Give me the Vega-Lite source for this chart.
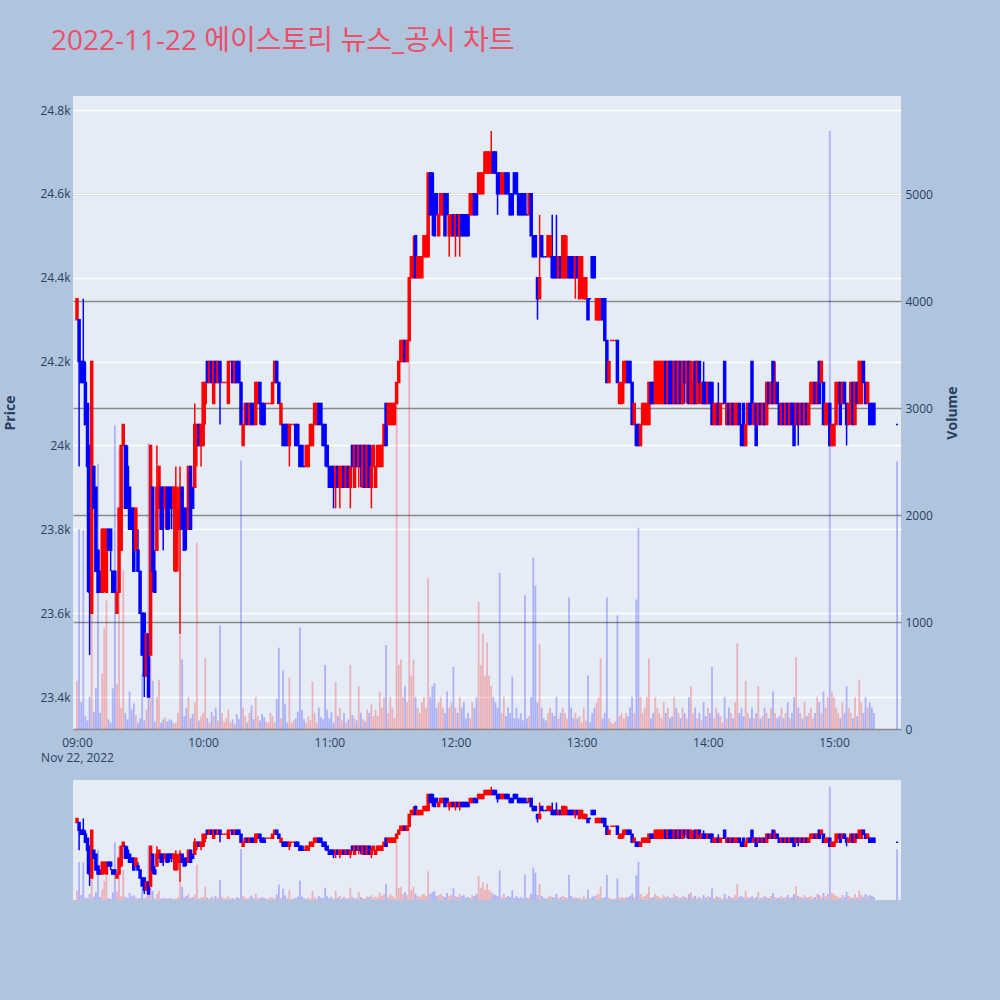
{
"$schema": "https://vega.github.io/schema/vega-lite/v6.json",
"background": "#B0C4DE",
"padding": {"left": 3, "top": 28, "right": 40, "bottom": 100},
"title": {"text": "2022-11-22 에이스토리 뉴스_공시 차트", "anchor": "start", "frame": "bounds", "font": "Open Sans, Noto Sans CJK KR", "fontSize": 28, "fontWeight": "normal", "color": "#EC5069", "dx": 47, "offset": 40},
"config": {"view": {"fill": "#E5ECF6", "stroke": null}, "axis": {"domain": false, "ticks": false, "labelFont": "Open Sans", "labelFontSize": 12, "labelColor": "#2a3f5f", "titleFont": "Open Sans", "titleColor": "#2a3f5f", "titleFontSize": 14, "titleFontWeight": "bold"}},
"data": {"values": [
{"t":"2022-11-22 09:00","o":24300,"h":24350,"l":24300,"c":24350,"v":450},
{"t":"2022-11-22 09:01","o":24300,"h":24300,"l":23950,"c":24200,"v":1870},
{"t":"2022-11-22 09:02","o":24200,"h":24200,"l":24150,"c":24150,"v":250},
{"t":"2022-11-22 09:03","o":24200,"h":24350,"l":24150,"c":24150,"v":1860},
{"t":"2022-11-22 09:04","o":24150,"h":24200,"l":24050,"c":24050,"v":120},
{"t":"2022-11-22 09:05","o":24100,"h":24100,"l":23650,"c":23950,"v":80},
{"t":"2022-11-22 09:06","o":24000,"h":24000,"l":23500,"c":23650,"v":300},
{"t":"2022-11-22 09:07","o":23600,"h":24200,"l":23600,"c":24200,"v":2850},
{"t":"2022-11-22 09:08","o":23950,"h":23950,"l":23850,"c":23850,"v":160},
{"t":"2022-11-22 09:09","o":23900,"h":23900,"l":23700,"c":23700,"v":380},
{"t":"2022-11-22 09:10","o":23750,"h":23750,"l":23650,"c":23650,"v":2480},
{"t":"2022-11-22 09:11","o":23700,"h":23700,"l":23650,"c":23650,"v":150},
{"t":"2022-11-22 09:12","o":23650,"h":23800,"l":23650,"c":23800,"v":520},
{"t":"2022-11-22 09:13","o":23700,"h":23800,"l":23650,"c":23800,"v":940},
{"t":"2022-11-22 09:14","o":23650,"h":23800,"l":23650,"c":23800,"v":1200},
{"t":"2022-11-22 09:15","o":23800,"h":23800,"l":23750,"c":23750,"v":90},
{"t":"2022-11-22 09:16","o":23800,"h":23800,"l":23700,"c":23750,"v":60},
{"t":"2022-11-22 09:17","o":23700,"h":23700,"l":23650,"c":23650,"v":380},
{"t":"2022-11-22 09:18","o":23700,"h":23700,"l":23650,"c":23650,"v":2840},
{"t":"2022-11-22 09:19","o":23600,"h":23650,"l":23600,"c":23650,"v":420},
{"t":"2022-11-22 09:20","o":23650,"h":23850,"l":23650,"c":23850,"v":2620},
{"t":"2022-11-22 09:21","o":23750,"h":24000,"l":23750,"c":24000,"v":200},
{"t":"2022-11-22 09:22","o":24000,"h":24050,"l":24000,"c":24050,"v":1480},
{"t":"2022-11-22 09:23","o":24000,"h":24000,"l":23850,"c":23850,"v":150},
{"t":"2022-11-22 09:24","o":23950,"h":24000,"l":23850,"c":23850,"v":90},
{"t":"2022-11-22 09:25","o":23900,"h":23900,"l":23800,"c":23800,"v":350},
{"t":"2022-11-22 09:26","o":23850,"h":23850,"l":23800,"c":23800,"v":180},
{"t":"2022-11-22 09:27","o":23850,"h":23850,"l":23700,"c":23700,"v":240},
{"t":"2022-11-22 09:28","o":23750,"h":23850,"l":23750,"c":23850,"v":130},
{"t":"2022-11-22 09:29","o":23750,"h":23800,"l":23700,"c":23700,"v":60},
{"t":"2022-11-22 09:30","o":23700,"h":23700,"l":23600,"c":23600,"v":100},
{"t":"2022-11-22 09:31","o":23600,"h":23600,"l":23500,"c":23500,"v":520},
{"t":"2022-11-22 09:32","o":23600,"h":23600,"l":23400,"c":23450,"v":80},
{"t":"2022-11-22 09:33","o":23450,"h":23550,"l":23450,"c":23550,"v":180},
{"t":"2022-11-22 09:34","o":23550,"h":23550,"l":23400,"c":23400,"v":2670},
{"t":"2022-11-22 09:35","o":23500,"h":24000,"l":23500,"c":24000,"v":670},
{"t":"2022-11-22 09:36","o":23900,"h":23900,"l":23650,"c":23700,"v":450},
{"t":"2022-11-22 09:37","o":23700,"h":23750,"l":23650,"c":23650,"v":70},
{"t":"2022-11-22 09:38","o":23750,"h":24000,"l":23750,"c":23900,"v":300},
{"t":"2022-11-22 09:39","o":23850,"h":23950,"l":23850,"c":23950,"v":460},
{"t":"2022-11-22 09:40","o":23900,"h":23900,"l":23800,"c":23800,"v":60},
{"t":"2022-11-22 09:41","o":23900,"h":23900,"l":23750,"c":23850,"v":90},
{"t":"2022-11-22 09:42","o":23850,"h":23900,"l":23800,"c":23900,"v":110},
{"t":"2022-11-22 09:43","o":23900,"h":23900,"l":23800,"c":23800,"v":70},
{"t":"2022-11-22 09:44","o":23900,"h":23900,"l":23800,"c":23850,"v":90},
{"t":"2022-11-22 09:45","o":23900,"h":23900,"l":23800,"c":23850,"v":80},
{"t":"2022-11-22 09:46","o":23850,"h":23900,"l":23700,"c":23900,"v":50},
{"t":"2022-11-22 09:47","o":23700,"h":23950,"l":23700,"c":23900,"v":60},
{"t":"2022-11-22 09:48","o":23800,"h":23900,"l":23700,"c":23850,"v":150},
{"t":"2022-11-22 09:49","o":23800,"h":23950,"l":23550,"c":23900,"v":880},
{"t":"2022-11-22 09:50","o":23900,"h":23900,"l":23800,"c":23800,"v":650},
{"t":"2022-11-22 09:51","o":23850,"h":23850,"l":23750,"c":23750,"v":120},
{"t":"2022-11-22 09:52","o":23850,"h":23850,"l":23750,"c":23800,"v":200},
{"t":"2022-11-22 09:53","o":23800,"h":23950,"l":23800,"c":23950,"v":300},
{"t":"2022-11-22 09:54","o":23950,"h":23950,"l":23800,"c":23800,"v":100},
{"t":"2022-11-22 09:55","o":23900,"h":23900,"l":23850,"c":23850,"v":140},
{"t":"2022-11-22 09:56","o":23900,"h":24100,"l":23900,"c":24050,"v":250},
{"t":"2022-11-22 09:57","o":24000,"h":24050,"l":23950,"c":24050,"v":1740},
{"t":"2022-11-22 09:58","o":24050,"h":24050,"l":24000,"c":24000,"v":80},
{"t":"2022-11-22 09:59","o":24000,"h":24050,"l":23950,"c":24050,"v":120},
{"t":"2022-11-22 10:00","o":24000,"h":24150,"l":24000,"c":24150,"v":150},
{"t":"2022-11-22 10:01","o":24100,"h":24150,"l":24050,"c":24150,"v":660},
{"t":"2022-11-22 10:02","o":24200,"h":24200,"l":24150,"c":24150,"v":100},
{"t":"2022-11-22 10:03","o":24150,"h":24200,"l":24150,"c":24200,"v":60},
{"t":"2022-11-22 10:04","o":24200,"h":24200,"l":24150,"c":24150,"v":160},
{"t":"2022-11-22 10:05","o":24100,"h":24200,"l":24100,"c":24200,"v":120},
{"t":"2022-11-22 10:06","o":24200,"h":24200,"l":24150,"c":24150,"v":200},
{"t":"2022-11-22 10:07","o":24150,"h":24200,"l":24150,"c":24200,"v":80},
{"t":"2022-11-22 10:08","o":24200,"h":24200,"l":24050,"c":24150,"v":970},
{"t":"2022-11-22 10:09","o":24150,"h":24150,"l":24150,"c":24150,"v":150,"u":1},
{"t":"2022-11-22 10:10","o":24150,"h":24150,"l":24150,"c":24150,"v":70,"u":1},
{"t":"2022-11-22 10:11","o":24150,"h":24150,"l":24150,"c":24150,"v":100,"u":1},
{"t":"2022-11-22 10:12","o":24100,"h":24200,"l":24100,"c":24200,"v":180},
{"t":"2022-11-22 10:13","o":24200,"h":24200,"l":24200,"c":24200,"v":60,"u":1},
{"t":"2022-11-22 10:14","o":24200,"h":24200,"l":24150,"c":24150,"v":90},
{"t":"2022-11-22 10:15","o":24150,"h":24200,"l":24150,"c":24200,"v":50},
{"t":"2022-11-22 10:16","o":24200,"h":24200,"l":24150,"c":24150,"v":140},
{"t":"2022-11-22 10:17","o":24200,"h":24200,"l":24150,"c":24150,"v":90},
{"t":"2022-11-22 10:18","o":24150,"h":24150,"l":24050,"c":24050,"v":2510},
{"t":"2022-11-22 10:19","o":24000,"h":24050,"l":24000,"c":24050,"v":200},
{"t":"2022-11-22 10:20","o":24050,"h":24100,"l":24050,"c":24100,"v":120},
{"t":"2022-11-22 10:21","o":24100,"h":24100,"l":24050,"c":24050,"v":60},
{"t":"2022-11-22 10:22","o":24050,"h":24100,"l":24050,"c":24100,"v":150},
{"t":"2022-11-22 10:23","o":24100,"h":24100,"l":24050,"c":24050,"v":220},
{"t":"2022-11-22 10:24","o":24100,"h":24100,"l":24050,"c":24050,"v":90},
{"t":"2022-11-22 10:25","o":24050,"h":24150,"l":24050,"c":24150,"v":300},
{"t":"2022-11-22 10:26","o":24100,"h":24150,"l":24100,"c":24150,"v":120},
{"t":"2022-11-22 10:27","o":24150,"h":24150,"l":24050,"c":24100,"v":80},
{"t":"2022-11-22 10:28","o":24100,"h":24100,"l":24050,"c":24050,"v":140},
{"t":"2022-11-22 10:29","o":24100,"h":24100,"l":24050,"c":24050,"v":110},
{"t":"2022-11-22 10:30","o":24100,"h":24100,"l":24100,"c":24100,"v":70,"u":1},
{"t":"2022-11-22 10:31","o":24100,"h":24100,"l":24100,"c":24100,"v":60,"u":1},
{"t":"2022-11-22 10:32","o":24100,"h":24100,"l":24100,"c":24100,"v":150,"u":1},
{"t":"2022-11-22 10:33","o":24100,"h":24150,"l":24100,"c":24150,"v":120},
{"t":"2022-11-22 10:34","o":24150,"h":24200,"l":24150,"c":24200,"v":60},
{"t":"2022-11-22 10:35","o":24200,"h":24200,"l":24150,"c":24150,"v":280},
{"t":"2022-11-22 10:36","o":24150,"h":24150,"l":24100,"c":24100,"v":760},
{"t":"2022-11-22 10:37","o":24050,"h":24100,"l":24050,"c":24100,"v":100},
{"t":"2022-11-22 10:38","o":24050,"h":24050,"l":24000,"c":24000,"v":550},
{"t":"2022-11-22 10:39","o":24050,"h":24050,"l":24000,"c":24000,"v":230},
{"t":"2022-11-22 10:40","o":24050,"h":24050,"l":24000,"c":24000,"v":60},
{"t":"2022-11-22 10:41","o":24000,"h":24050,"l":23950,"c":24050,"v":480},
{"t":"2022-11-22 10:42","o":24050,"h":24050,"l":24050,"c":24050,"v":60,"u":1},
{"t":"2022-11-22 10:43","o":24050,"h":24050,"l":24050,"c":24050,"v":80,"u":1},
{"t":"2022-11-22 10:44","o":24050,"h":24050,"l":24000,"c":24000,"v":100},
{"t":"2022-11-22 10:45","o":24050,"h":24050,"l":24000,"c":24000,"v":160},
{"t":"2022-11-22 10:46","o":24000,"h":24000,"l":23950,"c":23950,"v":950},
{"t":"2022-11-22 10:47","o":24000,"h":24000,"l":23950,"c":23950,"v":180},
{"t":"2022-11-22 10:48","o":23950,"h":23950,"l":23950,"c":23950,"v":90},
{"t":"2022-11-22 10:49","o":23950,"h":24000,"l":23950,"c":24000,"v":60},
{"t":"2022-11-22 10:50","o":23950,"h":24000,"l":23950,"c":24000,"v":120},
{"t":"2022-11-22 10:51","o":24000,"h":24050,"l":24000,"c":24050,"v":80},
{"t":"2022-11-22 10:52","o":24000,"h":24050,"l":24000,"c":24050,"v":440},
{"t":"2022-11-22 10:53","o":24050,"h":24100,"l":24050,"c":24100,"v":150},
{"t":"2022-11-22 10:54","o":24050,"h":24100,"l":24050,"c":24100,"v":60},
{"t":"2022-11-22 10:55","o":24100,"h":24100,"l":24050,"c":24050,"v":200},
{"t":"2022-11-22 10:56","o":24100,"h":24100,"l":24050,"c":24050,"v":110},
{"t":"2022-11-22 10:57","o":24050,"h":24050,"l":24000,"c":24000,"v":90},
{"t":"2022-11-22 10:58","o":24050,"h":24050,"l":23950,"c":24000,"v":600},
{"t":"2022-11-22 10:59","o":24000,"h":24000,"l":23950,"c":23950,"v":180},
{"t":"2022-11-22 11:00","o":23950,"h":23950,"l":23900,"c":23900,"v":100},
{"t":"2022-11-22 11:01","o":23950,"h":23950,"l":23900,"c":23900,"v":160},
{"t":"2022-11-22 11:02","o":23950,"h":23950,"l":23850,"c":23900,"v":60},
{"t":"2022-11-22 11:03","o":23900,"h":23950,"l":23850,"c":23950,"v":440},
{"t":"2022-11-22 11:04","o":23950,"h":23950,"l":23900,"c":23900,"v":120},
{"t":"2022-11-22 11:05","o":23900,"h":23950,"l":23850,"c":23950,"v":200},
{"t":"2022-11-22 11:06","o":23900,"h":23950,"l":23900,"c":23950,"v":80},
{"t":"2022-11-22 11:07","o":23950,"h":23950,"l":23900,"c":23900,"v":150},
{"t":"2022-11-22 11:08","o":23900,"h":23950,"l":23900,"c":23950,"v":60},
{"t":"2022-11-22 11:09","o":23950,"h":23950,"l":23900,"c":23900,"v":90},
{"t":"2022-11-22 11:10","o":23900,"h":23950,"l":23850,"c":23950,"v":600},
{"t":"2022-11-22 11:11","o":24000,"h":24000,"l":23950,"c":23950,"v":130},
{"t":"2022-11-22 11:12","o":23900,"h":24000,"l":23900,"c":24000,"v":100},
{"t":"2022-11-22 11:13","o":24000,"h":24000,"l":23950,"c":23950,"v":80},
{"t":"2022-11-22 11:14","o":23950,"h":24000,"l":23900,"c":24000,"v":400},
{"t":"2022-11-22 11:15","o":24000,"h":24000,"l":23900,"c":23950,"v":150},
{"t":"2022-11-22 11:16","o":23900,"h":24000,"l":23900,"c":24000,"v":90},
{"t":"2022-11-22 11:17","o":24000,"h":24000,"l":23900,"c":23900,"v":70},
{"t":"2022-11-22 11:18","o":23900,"h":24000,"l":23900,"c":24000,"v":180},
{"t":"2022-11-22 11:19","o":24000,"h":24000,"l":23900,"c":23900,"v":150},
{"t":"2022-11-22 11:20","o":23900,"h":24000,"l":23850,"c":23950,"v":230},
{"t":"2022-11-22 11:21","o":23950,"h":24000,"l":23950,"c":24000,"v":120},
{"t":"2022-11-22 11:22","o":23900,"h":23950,"l":23900,"c":23950,"v":180},
{"t":"2022-11-22 11:23","o":23950,"h":24000,"l":23950,"c":24000,"v":120},
{"t":"2022-11-22 11:24","o":23950,"h":24000,"l":23950,"c":24000,"v":350},
{"t":"2022-11-22 11:25","o":23950,"h":24000,"l":23950,"c":24000,"v":200},
{"t":"2022-11-22 11:26","o":24000,"h":24050,"l":24000,"c":24050,"v":300},
{"t":"2022-11-22 11:27","o":24100,"h":24100,"l":24000,"c":24000,"v":785},
{"t":"2022-11-22 11:28","o":24050,"h":24100,"l":24050,"c":24100,"v":150},
{"t":"2022-11-22 11:29","o":24050,"h":24100,"l":24050,"c":24100,"v":300},
{"t":"2022-11-22 11:30","o":24050,"h":24100,"l":24050,"c":24100,"v":200},
{"t":"2022-11-22 11:31","o":24050,"h":24100,"l":24050,"c":24100,"v":100},
{"t":"2022-11-22 11:32","o":24100,"h":24150,"l":24100,"c":24150,"v":3040},
{"t":"2022-11-22 11:33","o":24150,"h":24200,"l":24150,"c":24200,"v":600},
{"t":"2022-11-22 11:34","o":24200,"h":24250,"l":24200,"c":24250,"v":650},
{"t":"2022-11-22 11:35","o":24200,"h":24250,"l":24200,"c":24250,"v":300},
{"t":"2022-11-22 11:36","o":24250,"h":24250,"l":24200,"c":24200,"v":400},
{"t":"2022-11-22 11:37","o":24200,"h":24250,"l":24200,"c":24250,"v":250},
{"t":"2022-11-22 11:38","o":24250,"h":24400,"l":24250,"c":24400,"v":4000},
{"t":"2022-11-22 11:39","o":24400,"h":24450,"l":24400,"c":24450,"v":500},
{"t":"2022-11-22 11:40","o":24400,"h":24500,"l":24400,"c":24450,"v":650},
{"t":"2022-11-22 11:41","o":24500,"h":24500,"l":24400,"c":24400,"v":300},
{"t":"2022-11-22 11:42","o":24400,"h":24450,"l":24400,"c":24450,"v":200},
{"t":"2022-11-22 11:43","o":24400,"h":24450,"l":24400,"c":24450,"v":150},
{"t":"2022-11-22 11:44","o":24400,"h":24450,"l":24400,"c":24450,"v":250},
{"t":"2022-11-22 11:45","o":24450,"h":24500,"l":24450,"c":24500,"v":300},
{"t":"2022-11-22 11:46","o":24450,"h":24500,"l":24450,"c":24500,"v":200},
{"t":"2022-11-22 11:47","o":24450,"h":24650,"l":24450,"c":24650,"v":1410},
{"t":"2022-11-22 11:48","o":24650,"h":24650,"l":24550,"c":24550,"v":300},
{"t":"2022-11-22 11:49","o":24650,"h":24650,"l":24500,"c":24550,"v":400},
{"t":"2022-11-22 11:50","o":24600,"h":24600,"l":24500,"c":24500,"v":430},
{"t":"2022-11-22 11:51","o":24600,"h":24600,"l":24550,"c":24550,"v":200},
{"t":"2022-11-22 11:52","o":24500,"h":24550,"l":24500,"c":24550,"v":250},
{"t":"2022-11-22 11:53","o":24550,"h":24600,"l":24550,"c":24600,"v":300},
{"t":"2022-11-22 11:54","o":24550,"h":24600,"l":24550,"c":24600,"v":200},
{"t":"2022-11-22 11:55","o":24600,"h":24600,"l":24500,"c":24500,"v":150},
{"t":"2022-11-22 11:56","o":24600,"h":24600,"l":24550,"c":24550,"v":350},
{"t":"2022-11-22 11:57","o":24500,"h":24550,"l":24450,"c":24550,"v":200},
{"t":"2022-11-22 11:58","o":24500,"h":24550,"l":24500,"c":24550,"v":250},
{"t":"2022-11-22 11:59","o":24550,"h":24550,"l":24500,"c":24500,"v":580},
{"t":"2022-11-22 12:00","o":24500,"h":24550,"l":24450,"c":24550,"v":200},
{"t":"2022-11-22 12:01","o":24550,"h":24550,"l":24500,"c":24500,"v":150},
{"t":"2022-11-22 12:02","o":24500,"h":24550,"l":24450,"c":24550,"v":300},
{"t":"2022-11-22 12:03","o":24550,"h":24550,"l":24500,"c":24500,"v":200},
{"t":"2022-11-22 12:04","o":24550,"h":24550,"l":24500,"c":24500,"v":250},
{"t":"2022-11-22 12:05","o":24550,"h":24550,"l":24500,"c":24500,"v":100},
{"t":"2022-11-22 12:06","o":24550,"h":24550,"l":24500,"c":24500,"v":150},
{"t":"2022-11-22 12:07","o":24550,"h":24600,"l":24550,"c":24600,"v":100},
{"t":"2022-11-22 12:08","o":24550,"h":24600,"l":24550,"c":24600,"v":250},
{"t":"2022-11-22 12:09","o":24600,"h":24600,"l":24550,"c":24550,"v":200},
{"t":"2022-11-22 12:10","o":24600,"h":24600,"l":24550,"c":24550,"v":300},
{"t":"2022-11-22 12:11","o":24600,"h":24650,"l":24600,"c":24650,"v":1190},
{"t":"2022-11-22 12:12","o":24600,"h":24650,"l":24600,"c":24650,"v":600},
{"t":"2022-11-22 12:13","o":24600,"h":24650,"l":24600,"c":24650,"v":890},
{"t":"2022-11-22 12:14","o":24650,"h":24700,"l":24650,"c":24700,"v":500},
{"t":"2022-11-22 12:15","o":24650,"h":24700,"l":24650,"c":24700,"v":810},
{"t":"2022-11-22 12:16","o":24650,"h":24700,"l":24650,"c":24700,"v":500},
{"t":"2022-11-22 12:17","o":24650,"h":24750,"l":24650,"c":24700,"v":400},
{"t":"2022-11-22 12:18","o":24700,"h":24700,"l":24650,"c":24650,"v":300},
{"t":"2022-11-22 12:19","o":24700,"h":24700,"l":24650,"c":24650,"v":250},
{"t":"2022-11-22 12:20","o":24650,"h":24650,"l":24550,"c":24600,"v":200},
{"t":"2022-11-22 12:21","o":24650,"h":24650,"l":24600,"c":24600,"v":1460},
{"t":"2022-11-22 12:22","o":24600,"h":24650,"l":24600,"c":24650,"v":150},
{"t":"2022-11-22 12:23","o":24600,"h":24650,"l":24600,"c":24650,"v":300},
{"t":"2022-11-22 12:24","o":24650,"h":24650,"l":24600,"c":24600,"v":120},
{"t":"2022-11-22 12:25","o":24650,"h":24650,"l":24600,"c":24600,"v":200},
{"t":"2022-11-22 12:26","o":24600,"h":24600,"l":24550,"c":24550,"v":150},
{"t":"2022-11-22 12:27","o":24600,"h":24600,"l":24550,"c":24550,"v":490},
{"t":"2022-11-22 12:28","o":24650,"h":24650,"l":24600,"c":24600,"v":100},
{"t":"2022-11-22 12:29","o":24650,"h":24650,"l":24600,"c":24600,"v":200},
{"t":"2022-11-22 12:30","o":24600,"h":24600,"l":24550,"c":24550,"v":100},
{"t":"2022-11-22 12:31","o":24600,"h":24600,"l":24550,"c":24550,"v":150},
{"t":"2022-11-22 12:32","o":24600,"h":24600,"l":24550,"c":24550,"v":80},
{"t":"2022-11-22 12:33","o":24600,"h":24600,"l":24550,"c":24550,"v":1250},
{"t":"2022-11-22 12:34","o":24550,"h":24550,"l":24550,"c":24550,"v":100},
{"t":"2022-11-22 12:35","o":24550,"h":24600,"l":24550,"c":24600,"v":120},
{"t":"2022-11-22 12:36","o":24600,"h":24600,"l":24500,"c":24500,"v":300},
{"t":"2022-11-22 12:37","o":24500,"h":24500,"l":24450,"c":24450,"v":1600},
{"t":"2022-11-22 12:38","o":24500,"h":24500,"l":24450,"c":24450,"v":1340},
{"t":"2022-11-22 12:39","o":24400,"h":24400,"l":24300,"c":24350,"v":250},
{"t":"2022-11-22 12:40","o":24350,"h":24550,"l":24350,"c":24400,"v":790},
{"t":"2022-11-22 12:41","o":24500,"h":24500,"l":24450,"c":24450,"v":200},
{"t":"2022-11-22 12:42","o":24450,"h":24450,"l":24450,"c":24450,"v":100},
{"t":"2022-11-22 12:43","o":24450,"h":24450,"l":24450,"c":24450,"v":80},
{"t":"2022-11-22 12:44","o":24450,"h":24500,"l":24450,"c":24500,"v":150},
{"t":"2022-11-22 12:45","o":24450,"h":24500,"l":24450,"c":24500,"v":200},
{"t":"2022-11-22 12:46","o":24450,"h":24550,"l":24400,"c":24400,"v":150},
{"t":"2022-11-22 12:47","o":24450,"h":24450,"l":24400,"c":24400,"v":120},
{"t":"2022-11-22 12:48","o":24450,"h":24550,"l":24400,"c":24400,"v":300},
{"t":"2022-11-22 12:49","o":24400,"h":24450,"l":24400,"c":24450,"v":100},
{"t":"2022-11-22 12:50","o":24450,"h":24450,"l":24400,"c":24400,"v":150},
{"t":"2022-11-22 12:51","o":24400,"h":24500,"l":24400,"c":24500,"v":200},
{"t":"2022-11-22 12:52","o":24400,"h":24500,"l":24400,"c":24500,"v":150},
{"t":"2022-11-22 12:53","o":24400,"h":24500,"l":24400,"c":24450,"v":100},
{"t":"2022-11-22 12:54","o":24450,"h":24450,"l":24400,"c":24400,"v":1230},
{"t":"2022-11-22 12:55","o":24450,"h":24450,"l":24400,"c":24400,"v":200},
{"t":"2022-11-22 12:56","o":24450,"h":24450,"l":24400,"c":24400,"v":100},
{"t":"2022-11-22 12:57","o":24400,"h":24450,"l":24350,"c":24450,"v":150},
{"t":"2022-11-22 12:58","o":24450,"h":24450,"l":24400,"c":24400,"v":100},
{"t":"2022-11-22 12:59","o":24350,"h":24450,"l":24350,"c":24450,"v":120},
{"t":"2022-11-22 13:00","o":24400,"h":24450,"l":24350,"c":24450,"v":60},
{"t":"2022-11-22 13:01","o":24350,"h":24400,"l":24350,"c":24400,"v":200},
{"t":"2022-11-22 13:02","o":24350,"h":24400,"l":24350,"c":24400,"v":80},
{"t":"2022-11-22 13:03","o":24350,"h":24350,"l":24300,"c":24300,"v":500},
{"t":"2022-11-22 13:04","o":24350,"h":24350,"l":24350,"c":24350,"v":60},
{"t":"2022-11-22 13:05","o":24450,"h":24450,"l":24400,"c":24400,"v":150},
{"t":"2022-11-22 13:06","o":24450,"h":24450,"l":24400,"c":24400,"v":200},
{"t":"2022-11-22 13:07","o":24300,"h":24350,"l":24300,"c":24350,"v":250},
{"t":"2022-11-22 13:08","o":24300,"h":24350,"l":24300,"c":24350,"v":300},
{"t":"2022-11-22 13:09","o":24300,"h":24350,"l":24300,"c":24350,"v":660},
{"t":"2022-11-22 13:10","o":24350,"h":24350,"l":24300,"c":24300,"v":100},
{"t":"2022-11-22 13:11","o":24350,"h":24350,"l":24250,"c":24250,"v":150},
{"t":"2022-11-22 13:12","o":24250,"h":24250,"l":24150,"c":24150,"v":1230},
{"t":"2022-11-22 13:13","o":24150,"h":24200,"l":24150,"c":24200,"v":100},
{"t":"2022-11-22 13:14","o":24250,"h":24250,"l":24250,"c":24250,"v":60,"u":1},
{"t":"2022-11-22 13:15","o":24250,"h":24250,"l":24250,"c":24250,"v":50,"u":1},
{"t":"2022-11-22 13:16","o":24250,"h":24250,"l":24250,"c":24250,"v":70,"u":1},
{"t":"2022-11-22 13:17","o":24250,"h":24250,"l":24150,"c":24150,"v":1060},
{"t":"2022-11-22 13:18","o":24100,"h":24150,"l":24100,"c":24150,"v":120},
{"t":"2022-11-22 13:19","o":24100,"h":24150,"l":24100,"c":24150,"v":150},
{"t":"2022-11-22 13:20","o":24150,"h":24200,"l":24100,"c":24200,"v":100},
{"t":"2022-11-22 13:21","o":24150,"h":24200,"l":24150,"c":24200,"v":150},
{"t":"2022-11-22 13:22","o":24200,"h":24200,"l":24150,"c":24150,"v":120},
{"t":"2022-11-22 13:23","o":24200,"h":24200,"l":24150,"c":24150,"v":200},
{"t":"2022-11-22 13:24","o":24150,"h":24150,"l":24050,"c":24050,"v":300},
{"t":"2022-11-22 13:25","o":24050,"h":24100,"l":24050,"c":24100,"v":150},
{"t":"2022-11-22 13:26","o":24050,"h":24050,"l":24000,"c":24000,"v":1210},
{"t":"2022-11-22 13:27","o":24050,"h":24050,"l":24000,"c":24000,"v":1880},
{"t":"2022-11-22 13:28","o":24000,"h":24050,"l":24000,"c":24050,"v":300},
{"t":"2022-11-22 13:29","o":24050,"h":24100,"l":24050,"c":24100,"v":150},
{"t":"2022-11-22 13:30","o":24050,"h":24100,"l":24050,"c":24100,"v":200},
{"t":"2022-11-22 13:31","o":24050,"h":24100,"l":24050,"c":24100,"v":300},
{"t":"2022-11-22 13:32","o":24050,"h":24150,"l":24050,"c":24150,"v":660},
{"t":"2022-11-22 13:33","o":24150,"h":24150,"l":24100,"c":24100,"v":100},
{"t":"2022-11-22 13:34","o":24150,"h":24150,"l":24100,"c":24100,"v":150},
{"t":"2022-11-22 13:35","o":24100,"h":24200,"l":24100,"c":24200,"v":300},
{"t":"2022-11-22 13:36","o":24100,"h":24200,"l":24100,"c":24200,"v":200},
{"t":"2022-11-22 13:37","o":24100,"h":24200,"l":24100,"c":24200,"v":150},
{"t":"2022-11-22 13:38","o":24100,"h":24200,"l":24100,"c":24200,"v":100},
{"t":"2022-11-22 13:39","o":24100,"h":24200,"l":24100,"c":24200,"v":250},
{"t":"2022-11-22 13:40","o":24200,"h":24200,"l":24100,"c":24100,"v":150},
{"t":"2022-11-22 13:41","o":24100,"h":24200,"l":24100,"c":24200,"v":200},
{"t":"2022-11-22 13:42","o":24200,"h":24200,"l":24100,"c":24100,"v":100},
{"t":"2022-11-22 13:43","o":24200,"h":24200,"l":24100,"c":24100,"v":120},
{"t":"2022-11-22 13:44","o":24100,"h":24200,"l":24100,"c":24200,"v":300},
{"t":"2022-11-22 13:45","o":24200,"h":24200,"l":24100,"c":24100,"v":200},
{"t":"2022-11-22 13:46","o":24100,"h":24200,"l":24100,"c":24200,"v":150},
{"t":"2022-11-22 13:47","o":24200,"h":24200,"l":24100,"c":24100,"v":100},
{"t":"2022-11-22 13:48","o":24100,"h":24200,"l":24100,"c":24200,"v":200},
{"t":"2022-11-22 13:49","o":24200,"h":24200,"l":24100,"c":24150,"v":150},
{"t":"2022-11-22 13:50","o":24150,"h":24200,"l":24100,"c":24200,"v":100},
{"t":"2022-11-22 13:51","o":24200,"h":24200,"l":24100,"c":24100,"v":300},
{"t":"2022-11-22 13:52","o":24100,"h":24200,"l":24100,"c":24200,"v":400},
{"t":"2022-11-22 13:53","o":24100,"h":24200,"l":24100,"c":24150,"v":150},
{"t":"2022-11-22 13:54","o":24200,"h":24200,"l":24100,"c":24100,"v":200},
{"t":"2022-11-22 13:55","o":24100,"h":24200,"l":24100,"c":24200,"v":100},
{"t":"2022-11-22 13:56","o":24200,"h":24200,"l":24100,"c":24150,"v":150},
{"t":"2022-11-22 13:57","o":24100,"h":24150,"l":24100,"c":24150,"v":80},
{"t":"2022-11-22 13:58","o":24150,"h":24200,"l":24100,"c":24100,"v":250},
{"t":"2022-11-22 13:59","o":24150,"h":24150,"l":24100,"c":24100,"v":120},
{"t":"2022-11-22 14:00","o":24100,"h":24150,"l":24100,"c":24150,"v":200},
{"t":"2022-11-22 14:01","o":24150,"h":24150,"l":24100,"c":24100,"v":150},
{"t":"2022-11-22 14:02","o":24150,"h":24150,"l":24050,"c":24050,"v":580},
{"t":"2022-11-22 14:03","o":24050,"h":24100,"l":24050,"c":24100,"v":100},
{"t":"2022-11-22 14:04","o":24050,"h":24100,"l":24050,"c":24100,"v":200},
{"t":"2022-11-22 14:05","o":24100,"h":24150,"l":24050,"c":24050,"v":150},
{"t":"2022-11-22 14:06","o":24050,"h":24100,"l":24050,"c":24100,"v":120},
{"t":"2022-11-22 14:07","o":24100,"h":24100,"l":24100,"c":24100,"v":60,"u":1},
{"t":"2022-11-22 14:08","o":24200,"h":24200,"l":24100,"c":24100,"v":300},
{"t":"2022-11-22 14:09","o":24050,"h":24100,"l":24050,"c":24100,"v":100},
{"t":"2022-11-22 14:10","o":24100,"h":24100,"l":24050,"c":24050,"v":200},
{"t":"2022-11-22 14:11","o":24050,"h":24100,"l":24050,"c":24100,"v":150},
{"t":"2022-11-22 14:12","o":24100,"h":24100,"l":24050,"c":24050,"v":100},
{"t":"2022-11-22 14:13","o":24050,"h":24100,"l":24050,"c":24100,"v":250},
{"t":"2022-11-22 14:14","o":24050,"h":24100,"l":24050,"c":24100,"v":800},
{"t":"2022-11-22 14:15","o":24100,"h":24100,"l":24050,"c":24050,"v":150},
{"t":"2022-11-22 14:16","o":24050,"h":24050,"l":24000,"c":24000,"v":200},
{"t":"2022-11-22 14:17","o":24100,"h":24100,"l":24000,"c":24000,"v":120},
{"t":"2022-11-22 14:18","o":24000,"h":24050,"l":24000,"c":24050,"v":450},
{"t":"2022-11-22 14:19","o":24050,"h":24100,"l":24050,"c":24100,"v":150},
{"t":"2022-11-22 14:20","o":24100,"h":24100,"l":24050,"c":24050,"v":100},
{"t":"2022-11-22 14:21","o":24200,"h":24200,"l":24050,"c":24100,"v":200},
{"t":"2022-11-22 14:22","o":24050,"h":24100,"l":24050,"c":24100,"v":100},
{"t":"2022-11-22 14:23","o":24100,"h":24100,"l":24000,"c":24000,"v":150},
{"t":"2022-11-22 14:24","o":24050,"h":24100,"l":24050,"c":24100,"v":400},
{"t":"2022-11-22 14:25","o":24100,"h":24100,"l":24050,"c":24050,"v":100},
{"t":"2022-11-22 14:26","o":24050,"h":24100,"l":24050,"c":24100,"v":120},
{"t":"2022-11-22 14:27","o":24100,"h":24100,"l":24050,"c":24050,"v":200},
{"t":"2022-11-22 14:28","o":24050,"h":24150,"l":24050,"c":24150,"v":150},
{"t":"2022-11-22 14:29","o":24150,"h":24150,"l":24100,"c":24100,"v":100},
{"t":"2022-11-22 14:30","o":24100,"h":24150,"l":24100,"c":24150,"v":200},
{"t":"2022-11-22 14:31","o":24200,"h":24200,"l":24100,"c":24100,"v":350},
{"t":"2022-11-22 14:32","o":24100,"h":24200,"l":24100,"c":24150,"v":150},
{"t":"2022-11-22 14:33","o":24150,"h":24150,"l":24100,"c":24100,"v":100},
{"t":"2022-11-22 14:34","o":24100,"h":24100,"l":24050,"c":24050,"v":120},
{"t":"2022-11-22 14:35","o":24050,"h":24100,"l":24050,"c":24100,"v":200},
{"t":"2022-11-22 14:36","o":24100,"h":24100,"l":24050,"c":24050,"v":100},
{"t":"2022-11-22 14:37","o":24050,"h":24100,"l":24050,"c":24100,"v":150},
{"t":"2022-11-22 14:38","o":24100,"h":24100,"l":24050,"c":24050,"v":250},
{"t":"2022-11-22 14:39","o":24050,"h":24100,"l":24050,"c":24100,"v":100},
{"t":"2022-11-22 14:40","o":24100,"h":24100,"l":24050,"c":24050,"v":150},
{"t":"2022-11-22 14:41","o":24100,"h":24100,"l":24000,"c":24000,"v":300},
{"t":"2022-11-22 14:42","o":24050,"h":24100,"l":24050,"c":24100,"v":670},
{"t":"2022-11-22 14:43","o":24100,"h":24100,"l":24000,"c":24050,"v":200},
{"t":"2022-11-22 14:44","o":24050,"h":24100,"l":24050,"c":24100,"v":150},
{"t":"2022-11-22 14:45","o":24100,"h":24100,"l":24050,"c":24050,"v":100},
{"t":"2022-11-22 14:46","o":24050,"h":24100,"l":24050,"c":24100,"v":250},
{"t":"2022-11-22 14:47","o":24100,"h":24100,"l":24050,"c":24050,"v":120},
{"t":"2022-11-22 14:48","o":24050,"h":24100,"l":24050,"c":24100,"v":150},
{"t":"2022-11-22 14:49","o":24100,"h":24150,"l":24100,"c":24150,"v":200},
{"t":"2022-11-22 14:50","o":24100,"h":24150,"l":24100,"c":24150,"v":100},
{"t":"2022-11-22 14:51","o":24150,"h":24150,"l":24100,"c":24100,"v":150},
{"t":"2022-11-22 14:52","o":24100,"h":24150,"l":24100,"c":24150,"v":300},
{"t":"2022-11-22 14:53","o":24200,"h":24200,"l":24100,"c":24100,"v":250},
{"t":"2022-11-22 14:54","o":24150,"h":24200,"l":24150,"c":24200,"v":150},
{"t":"2022-11-22 14:55","o":24150,"h":24150,"l":24050,"c":24050,"v":350},
{"t":"2022-11-22 14:56","o":24050,"h":24100,"l":24050,"c":24100,"v":200},
{"t":"2022-11-22 14:57","o":24050,"h":24100,"l":24050,"c":24100,"v":300},
{"t":"2022-11-22 14:58","o":24100,"h":24100,"l":24000,"c":24000,"v":5590},
{"t":"2022-11-22 14:59","o":24000,"h":24050,"l":24000,"c":24050,"v":350},
{"t":"2022-11-22 15:00","o":24000,"h":24050,"l":24000,"c":24050,"v":300},
{"t":"2022-11-22 15:01","o":24050,"h":24150,"l":24050,"c":24150,"v":200},
{"t":"2022-11-22 15:02","o":24100,"h":24150,"l":24100,"c":24150,"v":150},
{"t":"2022-11-22 15:03","o":24150,"h":24150,"l":24050,"c":24050,"v":100},
{"t":"2022-11-22 15:04","o":24100,"h":24150,"l":24100,"c":24150,"v":250},
{"t":"2022-11-22 15:05","o":24150,"h":24150,"l":24100,"c":24100,"v":150},
{"t":"2022-11-22 15:06","o":24100,"h":24100,"l":24000,"c":24050,"v":400},
{"t":"2022-11-22 15:07","o":24050,"h":24100,"l":24050,"c":24100,"v":200},
{"t":"2022-11-22 15:08","o":24100,"h":24150,"l":24050,"c":24150,"v":150},
{"t":"2022-11-22 15:09","o":24150,"h":24150,"l":24050,"c":24050,"v":100},
{"t":"2022-11-22 15:10","o":24050,"h":24150,"l":24050,"c":24150,"v":300},
{"t":"2022-11-22 15:11","o":24150,"h":24150,"l":24100,"c":24100,"v":120},
{"t":"2022-11-22 15:12","o":24100,"h":24200,"l":24100,"c":24200,"v":460},
{"t":"2022-11-22 15:13","o":24100,"h":24200,"l":24100,"c":24200,"v":250},
{"t":"2022-11-22 15:14","o":24200,"h":24200,"l":24150,"c":24150,"v":150},
{"t":"2022-11-22 15:15","o":24150,"h":24150,"l":24100,"c":24100,"v":300},
{"t":"2022-11-22 15:16","o":24100,"h":24150,"l":24100,"c":24150,"v":200},
{"t":"2022-11-22 15:17","o":24100,"h":24100,"l":24050,"c":24050,"v":250},
{"t":"2022-11-22 15:18","o":24100,"h":24100,"l":24050,"c":24050,"v":200},
{"t":"2022-11-22 15:19","o":24100,"h":24100,"l":24050,"c":24050,"v":150},
{"t":"2022-11-22 15:30","o":24050,"h":24050,"l":24050,"c":24050,"v":2500}
]},
"bounds": "flush",
"spacing": 51,
"vconcat": [
{
 "width": 828, "height": 633,
 "encoding": {"x": {"field": "t", "type": "temporal",
   "scale": {"domain": [{"year": 2022, "month": 11, "date": 22, "hours": 8, "minutes": 58, "seconds": 6}, {"year": 2022, "month": 11, "date": 22, "hours": 15, "minutes": 31, "seconds": 52}], "nice": false, "padding": 0},
   "axis": {"title": null, "grid": false, "labelPadding": 8, "labelLineHeight": 15,
     "values": [{"year": 2022, "month": 11, "date": 22, "hours": 9}, {"year": 2022, "month": 11, "date": 22, "hours": 10}, {"year": 2022, "month": 11, "date": 22, "hours": 11}, {"year": 2022, "month": 11, "date": 22, "hours": 12}, {"year": 2022, "month": 11, "date": 22, "hours": 13}, {"year": 2022, "month": 11, "date": 22, "hours": 14}, {"year": 2022, "month": 11, "date": 22, "hours": 15}],
     "labelExpr": "hours(datum.value) == 9 ? ['09:00', timeFormat(datum.value, '%b %d, %Y')] : timeFormat(datum.value, '%H:%M')"}}},
 "layer": [
  {"mark": {"type": "bar", "width": 1.8, "opacity": 0.25},
   "encoding": {
     "y": {"field": "v", "type": "quantitative", "scale": {"domain": [0, 5916], "nice": false, "zero": false},
       "axis": {"orient": "right", "title": "Volume", "values": [0, 1000, 2000, 3000, 4000, 5000], "format": "d", "grid": true, "gridColor": "#8a8a8a", "gridWidth": 1.5, "labelPadding": 4, "titlePadding": 27, "titleAngle": 270}},
     "color": {"condition": {"test": "datum.c > datum.o || datum.u == 1", "value": "#ff0000"}, "value": "#0000ff"}}},
  {"layer": [
    {"mark": {"type": "rule", "strokeWidth": 1.5},
     "encoding": {
       "y": {"field": "l", "type": "quantitative", "scale": {"domain": [23323.7, 24833.4], "nice": false, "zero": false},
         "axis": {"title": "Price", "values": [23400, 23600, 23800, 24000, 24200, 24400, 24600, 24800], "format": "~s", "grid": true, "gridColor": "#ffffff", "gridWidth": 1.5, "labelPadding": 3, "titlePadding": 22}},
       "y2": {"field": "h"},
       "color": {"condition": {"test": "datum.c > datum.o || datum.u == 1", "value": "#ff0000"}, "value": "#0000ff"}}},
    {"mark": {"type": "bar", "width": 2, "strokeWidth": 1.5},
     "encoding": {
       "y": {"field": "o", "type": "quantitative",
         "axis": {"title": "Price", "values": [23400, 23600, 23800, 24000, 24200, 24400, 24600, 24800], "format": "~s", "grid": true, "gridColor": "#ffffff", "gridWidth": 1.5, "labelPadding": 3, "titlePadding": 22}},
       "y2": {"field": "c"},
       "fill": {"condition": {"test": "datum.c > datum.o || datum.u == 1", "value": "#ff0000"}, "value": "#0000ff"},
       "stroke": {"condition": {"test": "datum.c > datum.o || datum.u == 1", "value": "#ff0000"}, "value": "#0000ff"}}}
  ]}
 ],
 "resolve": {"scale": {"y": "independent"}}
},
{
 "width": 828, "height": 120,
 "encoding": {"x": {"field": "t", "type": "temporal",
   "scale": {"domain": [{"year": 2022, "month": 11, "date": 22, "hours": 8, "minutes": 58, "seconds": 6}, {"year": 2022, "month": 11, "date": 22, "hours": 15, "minutes": 31, "seconds": 52}], "nice": false, "padding": 0},
   "axis": null}},
 "layer": [
  {"mark": {"type": "bar", "width": 1.8, "opacity": 0.25},
   "encoding": {
     "y": {"field": "v", "type": "quantitative", "scale": {"domain": [0, 5916], "nice": false, "zero": false}, "axis": null},
     "color": {"condition": {"test": "datum.c > datum.o || datum.u == 1", "value": "#ff0000"}, "value": "#0000ff"}}},
  {"layer": [
    {"mark": {"type": "rule", "strokeWidth": 1.5},
     "encoding": {
       "y": {"field": "l", "type": "quantitative", "scale": {"domain": [23323.7, 24833.4], "nice": false, "zero": false}, "axis": null},
       "y2": {"field": "h"},
       "color": {"condition": {"test": "datum.c > datum.o || datum.u == 1", "value": "#ff0000"}, "value": "#0000ff"}}},
    {"mark": {"type": "bar", "width": 2, "strokeWidth": 1.5},
     "encoding": {
       "y": {"field": "o", "type": "quantitative", "axis": null},
       "y2": {"field": "c"},
       "fill": {"condition": {"test": "datum.c > datum.o || datum.u == 1", "value": "#ff0000"}, "value": "#0000ff"},
       "stroke": {"condition": {"test": "datum.c > datum.o || datum.u == 1", "value": "#ff0000"}, "value": "#0000ff"}}},
    {"data": {"values": [{}]},
     "mark": {"type": "rect", "fill": "#eeeeee", "stroke": "#444444", "strokeWidth": 1},
     "encoding": {
       "x": {"datum": {"year": 2022, "month": 11, "date": 22, "hours": 8, "minutes": 58, "seconds": 17}, "type": "temporal"},
       "x2": {"datum": {"year": 2022, "month": 11, "date": 22, "hours": 9, "minutes": 0, "seconds": 23}},
       "y": {"datum": 24456, "type": "quantitative"},
       "y2": {"datum": 23701}}},
    {"data": {"values": [{}]},
     "mark": {"type": "rect", "fill": "#eeeeee", "stroke": "#444444", "strokeWidth": 1},
     "encoding": {
       "x": {"datum": {"year": 2022, "month": 11, "date": 22, "hours": 15, "minutes": 30, "seconds": 42}, "type": "temporal"},
       "x2": {"datum": {"year": 2022, "month": 11, "date": 22, "hours": 15, "minutes": 32, "seconds": 42}},
       "y": {"datum": 24456, "type": "quantitative"},
       "y2": {"datum": 23701}}}
  ]}
 ],
 "resolve": {"scale": {"y": "independent"}}
}
]
}
